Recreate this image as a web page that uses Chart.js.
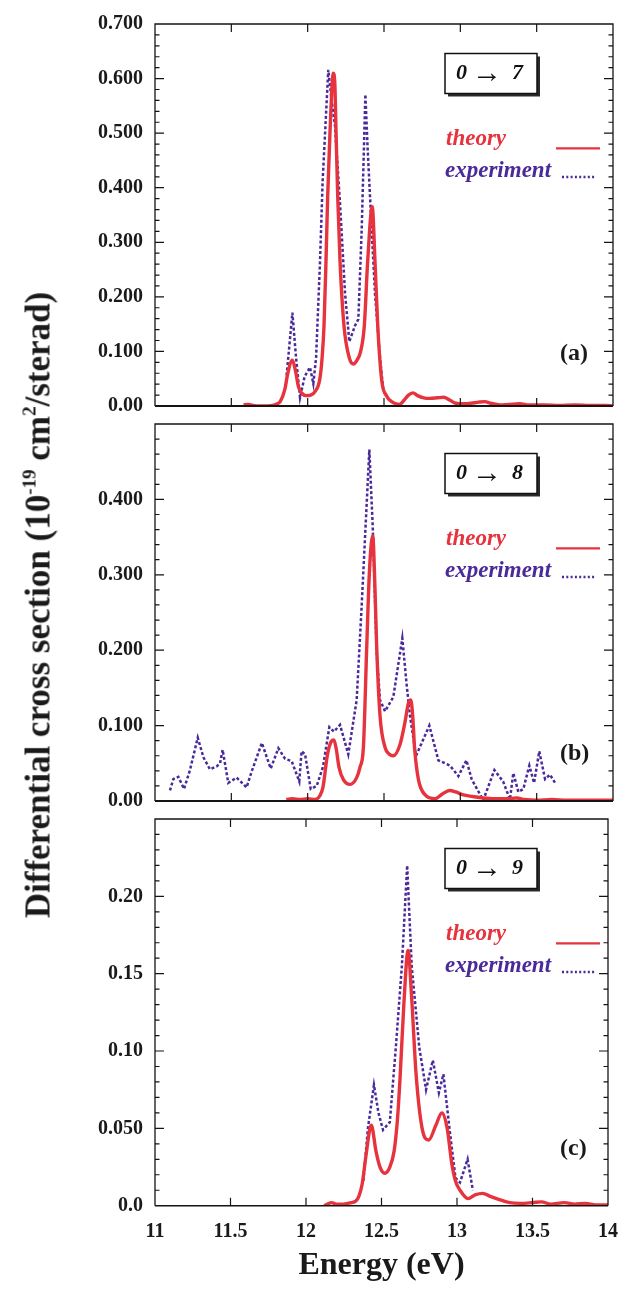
<!DOCTYPE html>
<html>
<head>
<meta charset="utf-8">
<script src="https://cdn.jsdelivr.net/npm/chart.js@4.4.1/dist/chart.umd.min.js"></script>
<style>
  body { margin: 0; background: #fff; }
  #wrap { position: relative; width: 632px; height: 1290px; overflow: hidden; background: #fff; }
  #wrap canvas { position: absolute; left: 0; }
  #ytitle {
    position: absolute; left: 38px; top: 605px;
    transform: translate(-50%, -50%) rotate(-90deg);
    font: bold 35px "Liberation Serif", "Times New Roman", serif;
    line-height: 35px; white-space: nowrap; color: #1a1a1a;
  }
  #ytitle sup { font-size: 19px; vertical-align: 14px; line-height: 0; }
</style>
</head>
<body>
<div id="wrap">
  <canvas id="panelA" width="632" height="430" style="top:0px"></canvas>
  <canvas id="panelB" width="632" height="425" style="top:400px"></canvas>
  <canvas id="panelC" width="632" height="495" style="top:795px"></canvas>
  <div id="ytitle">Differential cross section (10<sup>-19</sup> cm<sup>2</sup>/sterad)</div>
</div>
<script>
// shared energy axis
const xTicks = [11, 11.5, 12, 12.5, 13, 13.5, 14];
const xTickLabels = ['11', '11.5', '12', '12.5', '13', '13.5', '14'];

// panel (a) 0 -> 7
const yTicksA = [0, 0.1, 0.2, 0.3, 0.4, 0.5, 0.6, 0.7];
const yLabelsA = ['0.00', '0.100', '0.200', '0.300', '0.400', '0.500', '0.600', '0.700'];
const energyTheoryA = [11.58, 11.61, 11.64, 11.70, 11.77, 11.80, 11.82, 11.85, 11.87, 11.90, 11.92, 11.94, 11.96, 11.99, 12.02, 12.05, 12.08, 12.095, 12.107, 12.12, 12.131, 12.146, 12.168, 12.178, 12.186, 12.197, 12.212, 12.238, 12.273, 12.30, 12.325, 12.347, 12.371, 12.393, 12.423, 12.441, 12.459, 12.485, 12.518, 12.55, 12.58, 12.60, 12.63, 12.66, 12.69, 12.72, 12.76, 12.80, 12.85, 12.89, 12.93, 12.97, 13.02, 13.07, 13.12, 13.16, 13.20, 13.26, 13.32, 13.39, 13.45, 13.55, 13.65, 13.75, 13.85, 13.95, 14.0];
const theoryA = [0.002, 0.003, 0.001, 0, 0.001, 0.004, 0.008, 0.030, 0.060, 0.084, 0.065, 0.035, 0.024, 0.019, 0.020, 0.027, 0.050, 0.090, 0.147, 0.265, 0.383, 0.500, 0.610, 0.590, 0.500, 0.383, 0.265, 0.147, 0.088, 0.077, 0.085, 0.100, 0.147, 0.265, 0.365, 0.265, 0.147, 0.047, 0.018, 0.008, 0.004, 0.003, 0.010, 0.020, 0.024, 0.019, 0.015, 0.014, 0.015, 0.016, 0.011, 0.005, 0.004, 0.005, 0.007, 0.008, 0.005, 0.002, 0.003, 0.004, 0.002, 0.002, 0.001, 0.002, 0.001, 0.001, 0];
const energyExpA = [11.862, 11.90, 11.924, 11.95, 11.98, 12.015, 12.037, 12.055, 12.081, 12.098, 12.135, 12.157, 12.179, 12.212, 12.245, 12.273, 12.31, 12.332, 12.354, 12.378, 12.393, 12.419, 12.441, 12.474, 12.495];
const experimentA = [0.056, 0.171, 0.088, 0.015, 0.054, 0.071, 0.041, 0.088, 0.265, 0.412, 0.616, 0.560, 0.513, 0.371, 0.206, 0.118, 0.147, 0.159, 0.324, 0.571, 0.471, 0.324, 0.206, 0.088, 0.030];

// panel (b) 0 -> 8
const yTicksB = [0, 0.1, 0.2, 0.3, 0.4];
const yLabelsB = ['0.00', '0.100', '0.200', '0.300', '0.400'];
const energyTheoryB = [11.86, 11.90, 11.95, 12.00, 12.05, 12.08, 12.10, 12.13, 12.155, 12.172, 12.188, 12.205, 12.235, 12.277, 12.321, 12.343, 12.365, 12.387, 12.404, 12.426, 12.441, 12.452, 12.474, 12.507, 12.535, 12.561, 12.605, 12.637, 12.659, 12.675, 12.688, 12.70, 12.725, 12.77, 12.834, 12.88, 12.93, 12.97, 13.02, 13.08, 13.15, 13.22, 13.30, 13.37, 13.42, 13.50, 13.60, 13.70, 13.85, 14.00];
const theoryB = [0.002, 0.003, 0.002, 0.003, 0.002, 0.007, 0.018, 0.062, 0.079, 0.081, 0.068, 0.045, 0.028, 0.022, 0.031, 0.045, 0.071, 0.205, 0.302, 0.352, 0.281, 0.205, 0.113, 0.071, 0.062, 0.060, 0.075, 0.104, 0.129, 0.134, 0.113, 0.071, 0.029, 0.008, 0.003, 0.009, 0.014, 0.012, 0.008, 0.006, 0.004, 0.003, 0.003, 0.004, 0.002, 0.001, 0.002, 0.001, 0.001, 0.001];
const energyExpB = [11.098, 11.12, 11.153, 11.19, 11.229, 11.28, 11.317, 11.36, 11.404, 11.426, 11.443, 11.48, 11.535, 11.60, 11.633, 11.70, 11.758, 11.808, 11.852, 11.895, 11.945, 11.96, 11.983, 12.02, 12.059, 12.10, 12.142, 12.172, 12.212, 12.266, 12.321, 12.354, 12.404, 12.426, 12.452, 12.474, 12.507, 12.561, 12.62, 12.648, 12.67, 12.71, 12.797, 12.856, 12.932, 12.987, 13.04, 13.074, 13.15, 13.223, 13.28, 13.325, 13.347, 13.38, 13.413, 13.452, 13.483, 13.517, 13.555, 13.587, 13.627];
const experimentB = [0.014, 0.029, 0.032, 0.016, 0.041, 0.084, 0.058, 0.042, 0.046, 0.050, 0.068, 0.024, 0.031, 0.018, 0.039, 0.077, 0.043, 0.070, 0.056, 0.053, 0.026, 0.066, 0.062, 0.016, 0.020, 0.045, 0.098, 0.092, 0.101, 0.062, 0.134, 0.260, 0.466, 0.365, 0.197, 0.134, 0.119, 0.138, 0.216, 0.155, 0.113, 0.060, 0.100, 0.054, 0.047, 0.033, 0.054, 0.029, 0.001, 0.041, 0.026, 0.002, 0.037, 0.012, 0.016, 0.047, 0.024, 0.066, 0.029, 0.035, 0.022];

// panel (c) 0 -> 9
const yTicksC = [0, 0.05, 0.1, 0.15, 0.2];
const yLabelsC = ['0.0', '0.050', '0.10', '0.15', '0.20'];
const energyTheoryC = [12.12, 12.17, 12.20, 12.25, 12.30, 12.33, 12.35, 12.372, 12.398, 12.432, 12.464, 12.49, 12.522, 12.555, 12.583, 12.605, 12.622, 12.649, 12.676, 12.70, 12.729, 12.769, 12.813, 12.86, 12.90, 12.935, 12.966, 12.99, 13.02, 13.073, 13.12, 13.17, 13.22, 13.28, 13.35, 13.42, 13.50, 13.56, 13.62, 13.71, 13.78, 13.85, 13.92, 14.0];
const theoryC = [0, 0.002, 0.001, 0.001, 0.002, 0.003, 0.006, 0.014, 0.033, 0.052, 0.035, 0.025, 0.021, 0.025, 0.035, 0.055, 0.081, 0.132, 0.165, 0.134, 0.085, 0.050, 0.0425, 0.052, 0.060, 0.050, 0.027, 0.016, 0.010, 0.0046, 0.007, 0.008, 0.006, 0.004, 0.002, 0.0015, 0.002, 0.0025, 0.001, 0.002, 0.001, 0.0015, 0.0005, 0.0005];
const energyExpC = [12.38, 12.41, 12.45, 12.48, 12.51, 12.555, 12.595, 12.635, 12.67, 12.70, 12.75, 12.795, 12.84, 12.88, 12.91, 12.95, 12.99, 13.02, 13.07, 13.105];
const experimentC = [0.016, 0.050, 0.078, 0.060, 0.049, 0.054, 0.1025, 0.155, 0.220, 0.155, 0.1025, 0.075, 0.094, 0.073, 0.085, 0.050, 0.018, 0.015, 0.030, 0.010];

const red = '#e6333d';
const purple = '#4a2a9a';
const serif = '"Liberation Serif", "Times New Roman", serif';

function toXY(xs, ys) {
    return xs.map((x, i) => ({ x: x, y: ys[i] }));
}

// frame with inward ticks, transition box, legend and panel letter
const panelDecor = {
    id: 'panelDecor',
    afterDatasetsDraw(chart, args, opts) {
        const { ctx, chartArea: area } = chart;
        const x = chart.scales.x;
        const y = chart.scales.y;
        const top = area.top;
        ctx.save();
        ctx.strokeStyle = '#151515';
        ctx.lineWidth = 1.3;
        ctx.beginPath();
        ctx.moveTo(area.left, area.bottom);
        ctx.lineTo(area.left, area.top);
        ctx.lineTo(area.right, area.top);
        ctx.lineTo(area.right, area.bottom);
        ctx.stroke();
        ctx.lineWidth = opts.baseWidth;
        ctx.beginPath();
        ctx.moveTo(area.left, area.bottom);
        ctx.lineTo(area.right, area.bottom);
        ctx.stroke();

        ctx.lineWidth = 1.2;
        ctx.beginPath();
        xTicks.forEach(v => {
            const px = x.getPixelForValue(v);
            if (px <= area.left + 1 || px >= area.right - 1) return;
            ctx.moveTo(px, area.top);
            ctx.lineTo(px, area.top + 8);
            ctx.moveTo(px, area.bottom);
            ctx.lineTo(px, area.bottom - 8);
        });
        const n = Math.round(y.max / opts.minor);
        for (let i = 1; i < n; i++) {
            const v = i * opts.minor;
            const py = y.getPixelForValue(v);
            const major = opts.majors.some(m => Math.abs(m - v) < 1e-9);
            const len = major ? 9 : 4.5;
            ctx.moveTo(area.left, py);
            ctx.lineTo(area.left + len, py);
            ctx.moveTo(area.right, py);
            ctx.lineTo(area.right - len, py);
        }
        ctx.stroke();

        // transition box with drop shadow
        const bx = 445, by = top + 29.5, bw = 92, bh = 40;
        ctx.fillStyle = '#2a2a2a';
        ctx.fillRect(bx + 3, by + 3, bw, bh);
        ctx.fillStyle = '#fff';
        ctx.fillRect(bx, by, bw, bh);
        ctx.lineWidth = 1.5;
        ctx.strokeStyle = '#111';
        ctx.strokeRect(bx, by, bw, bh);
        ctx.fillStyle = '#111';
        ctx.textBaseline = 'middle';
        ctx.textAlign = 'left';
        ctx.font = 'italic bold 22px ' + serif;
        ctx.fillText('0', 456, by + 20);
        ctx.fillText(opts.level, 512, by + 20);
        ctx.textAlign = 'center';
        ctx.font = '30px ' + serif;
        ctx.fillText('\u2192', 487, by + 21);

        // legend
        const [th, ex] = chart.data.datasets;
        ctx.textAlign = 'left';
        ctx.textBaseline = 'alphabetic';
        ctx.font = 'italic bold 23px ' + serif;
        ctx.fillStyle = th.borderColor;
        ctx.fillText(th.label, 446, top + 121);
        ctx.fillStyle = ex.borderColor;
        ctx.fillText(ex.label, 445, top + 153);
        ctx.lineWidth = 2.2;
        ctx.strokeStyle = th.borderColor;
        ctx.beginPath();
        ctx.moveTo(556, top + 124.4);
        ctx.lineTo(600, top + 124.4);
        ctx.stroke();
        ctx.strokeStyle = ex.borderColor;
        ctx.lineWidth = 2.4;
        ctx.setLineDash([2, 2.3]);
        ctx.beginPath();
        ctx.moveTo(562, top + 153);
        ctx.lineTo(596, top + 153);
        ctx.stroke();
        ctx.setLineDash([]);

        // panel letter
        ctx.fillStyle = '#1a1a1a';
        ctx.font = 'bold 24px ' + serif;
        ctx.fillText(opts.letter, 560, top + 336);
        ctx.restore();
    }
};

function makePanel(id, cfg) {
    return new Chart(document.getElementById(id), { // eslint-disable-line
        type: 'line',
        data: {
            datasets: [
                {
                    label: 'theory',
                    data: toXY(cfg.theoryE, cfg.theory),
                    borderColor: red,
                    borderWidth: 3.4,
                    pointRadius: 0,
                    cubicInterpolationMode: 'monotone',
                    fill: false
                },
                {
                    label: 'experiment',
                    data: toXY(cfg.expE, cfg.exp),
                    borderColor: purple,
                    borderWidth: 2.5,
                    borderDash: [3, 2.2],
                    pointRadius: 0,
                    tension: 0,
                    fill: false
                }
            ]
        },
        options: {
            responsive: false,
            animation: false,
            devicePixelRatio: 1,
            layout: { padding: cfg.padding },
            plugins: {
                legend: { display: false },
                tooltip: { enabled: false },
                panelDecor: cfg.decor
            },
            scales: {
                x: {
                    type: 'linear',
                    min: 11,
                    max: 14,
                    display: cfg.showX,
                    afterBuildTicks: s => { s.ticks = xTicks.map(v => ({ value: v })); },
                    afterFit: s => { if (cfg.showX) s.height = 84.3; },
                    ticks: {
                        autoSkip: false,
                        maxRotation: 0,
                        minRotation: 0,
                        padding: 14,
                        color: '#1a1a1a',
                        font: { family: serif, size: 20, weight: 'bold' },
                        callback: (v, i) => xTickLabels[i]
                    },
                    grid: { display: false, drawTicks: false },
                    border: { display: false },
                    title: {
                        display: cfg.showX,
                        text: 'Energy (eV)',
                        color: '#1a1a1a',
                        font: { family: serif, size: 32, weight: 'bold' },
                        padding: { top: 0, bottom: 5 }
                    }
                },
                y: {
                    min: 0,
                    max: cfg.yMax,
                    afterBuildTicks: s => { s.ticks = cfg.yTicks.map(v => ({ value: v })); },
                    afterFit: s => { s.width = 155; },
                    ticks: {
                        autoSkip: false,
                        padding: 12,
                        color: '#1a1a1a',
                        font: { family: serif, size: 20, weight: 'bold' },
                        callback: (v, i) => cfg.yLabels[i]
                    },
                    grid: { display: false, drawTicks: false },
                    border: { display: false }
                }
            }
        },
        plugins: [panelDecor]
    });
}

makePanel('panelA', {
    theoryE: energyTheoryA, theory: theoryA, expE: energyExpA, exp: experimentA,
    yMax: 0.7, yTicks: yTicksA, yLabels: yLabelsA, showX: false,
    padding: { top: 17.3, bottom: 16.7, left: 0, right: 19 },
    decor: { minor: 0.02, majors: yTicksA, level: '7', letter: '(a)', baseWidth: 2.2 }
});

makePanel('panelB', {
    theoryE: energyTheoryB, theory: theoryB, expE: energyExpB, exp: experimentB,
    yMax: 0.5, yTicks: yTicksB, yLabels: yLabelsB, showX: false,
    padding: { top: 13.3, bottom: 15.7, left: 0, right: 19 },
    decor: { minor: 0.02, majors: yTicksB.concat([0.5]), level: '8', letter: '(b)', baseWidth: 2.2 }
});

makePanel('panelC', {
    theoryE: energyTheoryC, theory: theoryC, expE: energyExpC, exp: experimentC,
    yMax: 0.25, yTicks: yTicksC, yLabels: yLabelsC, showX: true,
    padding: { top: 14.3, bottom: 0, left: 0, right: 19 },
    decor: { minor: 0.01, majors: yTicksC.concat([0.25]), level: '9', letter: '(c)', baseWidth: 1.6 }
});
</script>
</body>
</html>
